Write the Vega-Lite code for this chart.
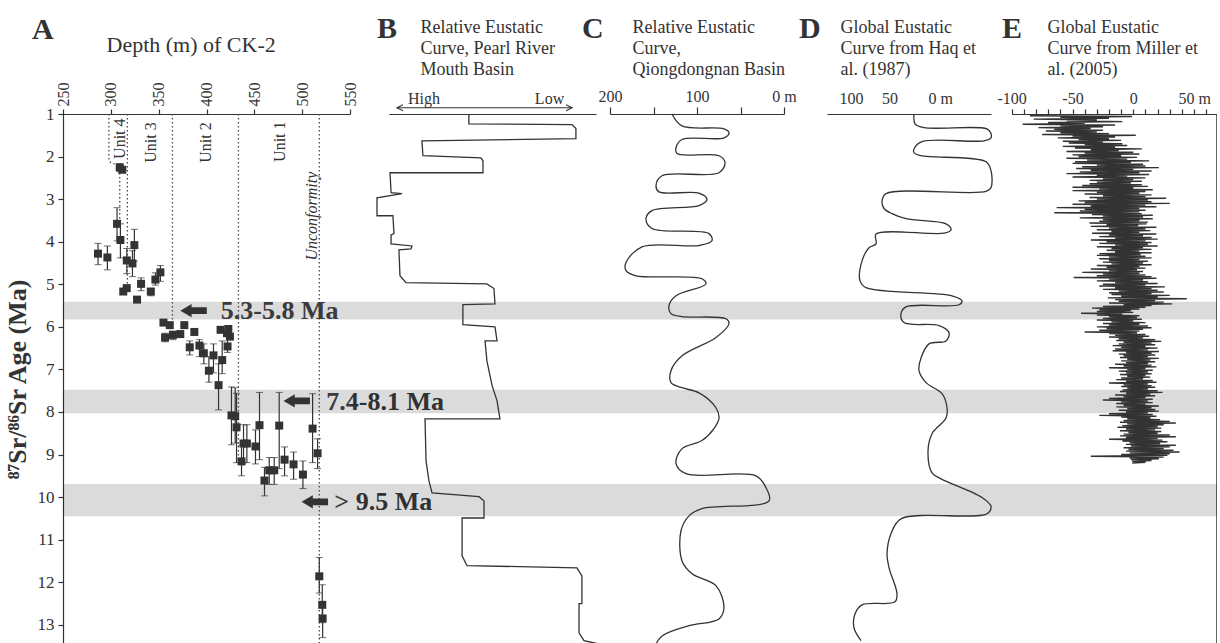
{
  "$schema": "https://vega.github.io/schema/vega-lite/v6.json",
  "background": "white",
  "padding": {"left": 4, "top": 14, "right": 0, "bottom": 0},
  "spacing": 0,
  "bounds": "flush",
  "config": {
    "view": {"stroke": null},
    "font": "Liberation Serif",
    "axis": {
      "labelFont": "Liberation Serif", "titleFont": "Liberation Serif",
      "labelColor": "#333", "titleColor": "#333", "domainColor": "#333", "tickColor": "#333",
      "domainWidth": 1.2, "tickWidth": 1.2, "grid": false, "labelFlush": false, "labelOverlap": false,
      "labelFontSize": 16, "titleFontWeight": "normal"
    },
    "title": {"font": "Liberation Serif", "fontSize": 30, "fontWeight": "bold", "color": "#333", "anchor": "start", "frame": "group", "baseline": "alphabetic"}
  },
  "datasets": {
    "bands": [
      {"lo": 5.41, "hi": 5.83},
      {"lo": 7.48, "hi": 8.03},
      {"lo": 9.69, "hi": 10.45}
    ],
    "guides": [
      {"g": "u4", "o": 1, "depth": 298, "age": 1.0},
      {"g": "u4", "o": 2, "depth": 298, "age": 2.08},
      {"g": "u4", "o": 3, "depth": 300, "age": 2.15},
      {"g": "u4", "o": 4, "depth": 304, "age": 2.18},
      {"g": "u4b", "o": 1, "depth": 309.3, "age": 2.2},
      {"g": "u4b", "o": 2, "depth": 309.3, "age": 3.55},
      {"g": "b43", "o": 1, "depth": 317.3, "age": 1.0},
      {"g": "b43", "o": 2, "depth": 317.3, "age": 5.1},
      {"g": "b32", "o": 1, "depth": 364.4, "age": 1.0},
      {"g": "b32", "o": 2, "depth": 364.4, "age": 6.0},
      {"g": "b21", "o": 1, "depth": 433.4, "age": 1.0},
      {"g": "b21", "o": 2, "depth": 433.4, "age": 9.2},
      {"g": "unc", "o": 1, "depth": 517.9, "age": 1.0},
      {"g": "unc", "o": 2, "depth": 517.9, "age": 13.45}
    ],
    "units": [
      {"label": "Unit 4", "depth": 309.6, "age": 1.58, "italic": 0},
      {"label": "Unit 3", "depth": 341.7, "age": 1.67, "italic": 0},
      {"label": "Unit 2", "depth": 399.3, "age": 1.67, "italic": 0},
      {"label": "Unit 1", "depth": 476.7, "age": 1.65, "italic": 0},
      {"label": "Unconformity", "depth": 510.2, "age": 3.4, "italic": 1}
    ],
    "samples": [
      {"depth": 309.3, "age": 2.25, "lo": 2.18, "hi": 2.35},
      {"depth": 312.0, "age": 2.31, "lo": null, "hi": null},
      {"depth": 286.6, "age": 4.28, "lo": 4.04, "hi": 4.54},
      {"depth": 296.4, "age": 4.37, "lo": 4.10, "hi": 4.66},
      {"depth": 306.5, "age": 3.58, "lo": 3.20, "hi": 3.98},
      {"depth": 310.0, "age": 3.96, "lo": 3.58, "hi": 4.38},
      {"depth": 316.7, "age": 4.44, "lo": 4.16, "hi": 4.75},
      {"depth": 322.6, "age": 4.51, "lo": 4.21, "hi": 4.82},
      {"depth": 324.6, "age": 4.08, "lo": 3.71, "hi": 4.46},
      {"depth": 313.0, "age": 5.17, "lo": null, "hi": null},
      {"depth": 316.6, "age": 5.09, "lo": null, "hi": null},
      {"depth": 327.4, "age": 5.36, "lo": 5.30, "hi": 5.42},
      {"depth": 331.6, "age": 4.99, "lo": 4.85, "hi": 5.15},
      {"depth": 341.8, "age": 5.17, "lo": 5.10, "hi": 5.27},
      {"depth": 346.6, "age": 4.89, "lo": 4.73, "hi": 5.02},
      {"depth": 351.8, "age": 4.72, "lo": 4.56, "hi": 4.93},
      {"depth": 355.0, "age": 5.90, "lo": null, "hi": null},
      {"depth": 356.7, "age": 6.25, "lo": 6.15, "hi": 6.35},
      {"depth": 361.6, "age": 5.96, "lo": null, "hi": null},
      {"depth": 364.9, "age": 6.19, "lo": 6.10, "hi": 6.30},
      {"depth": 372.6, "age": 6.17, "lo": 6.10, "hi": 6.22},
      {"depth": 376.8, "age": 5.96, "lo": null, "hi": null},
      {"depth": 387.3, "age": 6.12, "lo": null, "hi": null},
      {"depth": 382.5, "age": 6.48, "lo": 6.33, "hi": 6.66},
      {"depth": 392.6, "age": 6.44, "lo": 6.30, "hi": 6.70},
      {"depth": 397.2, "age": 6.62, "lo": 6.40, "hi": 6.87},
      {"depth": 407.3, "age": 6.67, "lo": 6.40, "hi": 7.08},
      {"depth": 402.5, "age": 7.03, "lo": 6.70, "hi": 7.30},
      {"depth": 412.6, "age": 7.37, "lo": 6.87, "hi": 7.95},
      {"depth": 414.7, "age": 6.07, "lo": null, "hi": null},
      {"depth": 421.4, "age": 6.15, "lo": null, "hi": null},
      {"depth": 422.8, "age": 6.05, "lo": null, "hi": null},
      {"depth": 424.5, "age": 6.23, "lo": null, "hi": null},
      {"depth": 416.4, "age": 6.78, "lo": 6.33, "hi": 7.10},
      {"depth": 422.0, "age": 6.46, "lo": 6.20, "hi": 6.60},
      {"depth": 426.1, "age": 8.08, "lo": 7.41, "hi": 8.77},
      {"depth": 430.0, "age": 8.10, "lo": 7.43, "hi": 8.73},
      {"depth": 431.4, "age": 8.36, "lo": 7.56, "hi": 9.19},
      {"depth": 436.6, "age": 9.16, "lo": 8.79, "hi": 9.50},
      {"depth": 438.7, "age": 8.74, "lo": 8.30, "hi": 9.19},
      {"depth": 442.2, "age": 8.74, "lo": 8.30, "hi": 9.19},
      {"depth": 451.2, "age": 8.81, "lo": 8.42, "hi": 9.22},
      {"depth": 455.4, "age": 8.31, "lo": 7.54, "hi": 9.12},
      {"depth": 460.6, "age": 9.61, "lo": 9.30, "hi": 9.97},
      {"depth": 465.6, "age": 9.37, "lo": 9.07, "hi": 9.70},
      {"depth": 470.8, "age": 9.37, "lo": 9.07, "hi": 9.70},
      {"depth": 476.0, "age": 8.32, "lo": 7.54, "hi": 9.33},
      {"depth": 481.6, "age": 9.12, "lo": 8.82, "hi": 9.50},
      {"depth": 491.0, "age": 9.23, "lo": 8.94, "hi": 9.58},
      {"depth": 500.8, "age": 9.47, "lo": 9.15, "hi": 9.80},
      {"depth": 510.9, "age": 8.39, "lo": 7.57, "hi": 9.19},
      {"depth": 516.1, "age": 8.97, "lo": 8.63, "hi": 9.33},
      {"depth": 517.9, "age": 11.86, "lo": 11.42, "hi": 12.25},
      {"depth": 521.0, "age": 12.53, "lo": 12.06, "hi": 12.95},
      {"depth": 521.4, "age": 12.85, "lo": 12.50, "hi": 13.30}
    ],
    "arrows": [
      {"depth": 386.5, "age": 5.62},
      {"depth": 494.3, "age": 7.74},
      {"depth": 513.2, "age": 10.11}
    ],
    "callouts": [
      {"depth": 415.0, "age": 5.62, "label": "5.3-5.8 Ma"},
      {"depth": 525.2, "age": 7.76, "label": "7.4-8.1 Ma"},
      {"depth": 533.6, "age": 10.11, "label": "> 9.5 Ma"}
    ],
    "pearl": [
      {"o": 1, "v": 38.6, "age": 1.0}, {"o": 2, "v": 38.6, "age": 1.23}, {"o": 3, "v": 88.4, "age": 1.25},
      {"o": 4, "v": 90.3, "age": 1.34}, {"o": 5, "v": 90.3, "age": 1.58}, {"o": 6, "v": 15.9, "age": 1.63},
      {"o": 7, "v": 16.4, "age": 1.98}, {"o": 8, "v": 44.4, "age": 2.03}, {"o": 9, "v": 45.4, "age": 2.10},
      {"o": 10, "v": 45.4, "age": 2.38}, {"o": 11, "v": 0.5, "age": 2.38}, {"o": 12, "v": 1.0, "age": 2.85},
      {"o": 13, "v": 6.3, "age": 2.87}, {"o": 14, "v": -5.8, "age": 2.97}, {"o": 15, "v": -5.8, "age": 3.39},
      {"o": 16, "v": 1.9, "age": 3.39}, {"o": 17, "v": 2.4, "age": 3.81}, {"o": 18, "v": 1.0, "age": 3.84},
      {"o": 19, "v": 1.0, "age": 4.05}, {"o": 20, "v": 11.1, "age": 4.10}, {"o": 21, "v": 10.6, "age": 4.17},
      {"o": 22, "v": 4.8, "age": 4.19}, {"o": 23, "v": 5.3, "age": 4.80}, {"o": 24, "v": 8.2, "age": 4.96},
      {"o": 25, "v": 47.3, "age": 4.99}, {"o": 26, "v": 50.7, "age": 5.10}, {"o": 27, "v": 51.2, "age": 5.46},
      {"o": 28, "v": 35.7, "age": 5.48}, {"o": 29, "v": 35.7, "age": 5.95}, {"o": 30, "v": 51.2, "age": 6.00},
      {"o": 31, "v": 52.2, "age": 6.33}, {"o": 32, "v": 46.4, "age": 6.33}, {"o": 33, "v": 47.3, "age": 6.80},
      {"o": 34, "v": 49.8, "age": 7.38}, {"o": 35, "v": 52.2, "age": 7.74}, {"o": 36, "v": 53.6, "age": 8.16},
      {"o": 37, "v": 17.4, "age": 8.16}, {"o": 38, "v": 17.9, "age": 9.15}, {"o": 39, "v": 19.3, "age": 9.62},
      {"o": 40, "v": 20.8, "age": 9.90}, {"o": 41, "v": 43.5, "age": 9.99}, {"o": 42, "v": 45.9, "age": 10.09},
      {"o": 43, "v": 45.9, "age": 10.49}, {"o": 44, "v": 35.3, "age": 10.49}, {"o": 45, "v": 35.3, "age": 11.38},
      {"o": 46, "v": 37.7, "age": 11.61}, {"o": 47, "v": 90.8, "age": 11.66}, {"o": 48, "v": 93.2, "age": 11.85},
      {"o": 49, "v": 93.2, "age": 12.50}, {"o": 50, "v": 91.8, "age": 12.50}, {"o": 51, "v": 91.8, "age": 13.19},
      {"o": 52, "v": 94.2, "age": 13.37}, {"o": 53, "v": 101.4, "age": 13.45}
    ],
    "scaleArrow": [{"v1": 3.9, "v2": 88.4, "age": 0.852}],
    "scaleHeads": [
      {"v": 5.3, "age": 0.852, "dir": "left"},
      {"v": 87.0, "age": 0.852, "dir": "right"}
    ],
    "qiong": [
      {"o": 1, "v": 128.7, "age": 1.0}, {"o": 2, "v": 117.2, "age": 1.28}, {"o": 3, "v": 69.0, "age": 1.35},
      {"o": 4, "v": 63.2, "age": 1.44}, {"o": 5, "v": 69.0, "age": 1.56}, {"o": 6, "v": 117.2, "age": 1.60},
      {"o": 7, "v": 124.1, "age": 1.79}, {"o": 8, "v": 123.0, "age": 1.93}, {"o": 9, "v": 74.7, "age": 1.98},
      {"o": 10, "v": 67.8, "age": 2.14}, {"o": 11, "v": 74.7, "age": 2.38}, {"o": 12, "v": 140.2, "age": 2.45},
      {"o": 13, "v": 147.1, "age": 2.68}, {"o": 14, "v": 143.7, "age": 2.83}, {"o": 15, "v": 97.7, "age": 2.86},
      {"o": 16, "v": 88.5, "age": 3.01}, {"o": 17, "v": 97.7, "age": 3.15}, {"o": 18, "v": 151.7, "age": 3.27},
      {"o": 19, "v": 158.6, "age": 3.46}, {"o": 20, "v": 151.7, "age": 3.69}, {"o": 21, "v": 86.2, "age": 3.81},
      {"o": 22, "v": 82.8, "age": 3.98}, {"o": 23, "v": 97.7, "age": 4.09}, {"o": 24, "v": 163.2, "age": 4.12},
      {"o": 25, "v": 181.6, "age": 4.49}, {"o": 26, "v": 181.6, "age": 4.68}, {"o": 27, "v": 170.1, "age": 4.80},
      {"o": 28, "v": 94.3, "age": 4.87}, {"o": 29, "v": 89.7, "age": 4.99}, {"o": 30, "v": 124.1, "age": 5.27},
      {"o": 31, "v": 132.2, "age": 5.50}, {"o": 32, "v": 129.9, "age": 5.69}, {"o": 33, "v": 117.2, "age": 5.76},
      {"o": 34, "v": 66.7, "age": 5.81}, {"o": 35, "v": 63.2, "age": 5.92}, {"o": 36, "v": 78.2, "age": 6.25},
      {"o": 37, "v": 117.2, "age": 6.68}, {"o": 38, "v": 129.9, "age": 7.03}, {"o": 39, "v": 129.9, "age": 7.31},
      {"o": 40, "v": 117.2, "age": 7.43}, {"o": 41, "v": 97.7, "age": 7.55}, {"o": 42, "v": 78.2, "age": 7.90},
      {"o": 43, "v": 74.7, "age": 8.14}, {"o": 44, "v": 80.5, "age": 8.39}, {"o": 45, "v": 94.3, "age": 8.67},
      {"o": 46, "v": 117.2, "age": 8.86}, {"o": 47, "v": 124.1, "age": 9.21}, {"o": 48, "v": 112.6, "age": 9.45},
      {"o": 49, "v": 32.2, "age": 9.50}, {"o": 50, "v": 20.7, "age": 9.78}, {"o": 51, "v": 17.2, "age": 10.09},
      {"o": 52, "v": 94.3, "age": 10.27}, {"o": 53, "v": 109.2, "age": 10.44}, {"o": 54, "v": 118.4, "age": 10.79},
      {"o": 55, "v": 117.2, "age": 11.50}, {"o": 56, "v": 105.7, "age": 11.80}, {"o": 57, "v": 78.2, "age": 12.08},
      {"o": 58, "v": 69.0, "age": 12.60}, {"o": 59, "v": 74.7, "age": 12.86}, {"o": 60, "v": 109.2, "age": 13.02},
      {"o": 61, "v": 140.2, "age": 13.26}, {"o": 62, "v": 147.1, "age": 13.45}
    ],
    "haq": [
      {"o": 1, "v": 18.2, "age": 1.0}, {"o": 2, "v": 16.9, "age": 1.23}, {"o": 3, "v": 5.2, "age": 1.32},
      {"o": 4, "v": -76.6, "age": 1.35}, {"o": 5, "v": -81.8, "age": 1.46}, {"o": 6, "v": -81.8, "age": 1.56},
      {"o": 7, "v": -72.7, "age": 1.63}, {"o": 8, "v": 7.8, "age": 1.65}, {"o": 9, "v": 18.2, "age": 1.82},
      {"o": 10, "v": 18.2, "age": 1.91}, {"o": 11, "v": 9.1, "age": 1.98}, {"o": 12, "v": -75.3, "age": 2.12},
      {"o": 13, "v": -81.8, "age": 2.33}, {"o": 14, "v": -81.8, "age": 2.73}, {"o": 15, "v": -75.3, "age": 2.82},
      {"o": 16, "v": 54.5, "age": 2.87}, {"o": 17, "v": 59.7, "age": 3.04}, {"o": 18, "v": 57.1, "age": 3.22},
      {"o": 19, "v": 46.8, "age": 3.34}, {"o": 20, "v": 28.6, "age": 3.46}, {"o": 21, "v": -23.4, "age": 3.58},
      {"o": 22, "v": -29.9, "age": 3.72}, {"o": 23, "v": -20.8, "age": 3.80}, {"o": 24, "v": 67.5, "age": 3.82},
      {"o": 25, "v": 67.5, "age": 4.05}, {"o": 26, "v": 76.6, "age": 4.14}, {"o": 27, "v": 85.7, "age": 4.45},
      {"o": 28, "v": 88.3, "age": 4.92}, {"o": 29, "v": 80.5, "age": 5.08}, {"o": 30, "v": -31.2, "age": 5.27},
      {"o": 31, "v": -44.2, "age": 5.39}, {"o": 32, "v": -40.3, "age": 5.48}, {"o": 33, "v": 28.6, "age": 5.53},
      {"o": 34, "v": 35.1, "age": 5.69}, {"o": 35, "v": 31.2, "age": 5.90}, {"o": 36, "v": -14.3, "age": 5.97},
      {"o": 37, "v": -27.3, "age": 6.14}, {"o": 38, "v": -23.4, "age": 6.33}, {"o": 39, "v": -1.3, "age": 6.40},
      {"o": 40, "v": 9.1, "age": 6.73}, {"o": 41, "v": 11.7, "age": 7.03}, {"o": 42, "v": 2.6, "age": 7.31},
      {"o": 43, "v": -18.2, "age": 7.57}, {"o": 44, "v": -24.7, "age": 7.90}, {"o": 45, "v": -23.4, "age": 8.14},
      {"o": 46, "v": -10.4, "age": 8.39}, {"o": 47, "v": -5.2, "age": 8.51}, {"o": 48, "v": 0.0, "age": 8.91},
      {"o": 49, "v": -5.2, "age": 9.43}, {"o": 50, "v": -16.9, "age": 9.57}, {"o": 51, "v": -70.1, "age": 10.01},
      {"o": 52, "v": -81.8, "age": 10.22}, {"o": 53, "v": -76.6, "age": 10.39}, {"o": 54, "v": 35.1, "age": 10.51},
      {"o": 55, "v": 48.1, "age": 10.86}, {"o": 56, "v": 53.2, "age": 11.33}, {"o": 57, "v": 50.6, "age": 11.66},
      {"o": 58, "v": 40.3, "age": 12.27}, {"o": 59, "v": 42.9, "age": 12.46}, {"o": 60, "v": 85.7, "age": 12.53},
      {"o": 61, "v": 94.8, "age": 12.74}, {"o": 62, "v": 96.1, "age": 13.07}, {"o": 63, "v": 87.0, "age": 13.37}
    ],
    "miller": [
      {"a":1.04,"v":-85},{"a":1.06,"v":-1},{"a":1.08,"v":-60},{"a":1.10,"v":-20},{"a":1.12,"v":-82},{"a":1.14,"v":-30},{"a":1.16,"v":-55},{"a":1.18,"v":-9},{"a":1.20,"v":-70},{"a":1.22,"v":-40},
      {"a":1.24,"v":-91},{"a":1.26,"v":-15},{"a":1.28,"v":-60},{"a":1.30,"v":-25},{"a":1.32,"v":-78},{"a":1.34,"v":-35},{"a":1.36,"v":-65},{"a":1.38,"v":-25},{"a":1.40,"v":-72},{"a":1.42,"v":-30},
      {"a":1.44,"v":-60},{"a":1.46,"v":-20},{"a":1.48,"v":-75},{"a":1.50,"v":2},{"a":1.52,"v":-50},{"a":1.54,"v":-15},{"a":1.56,"v":-62},{"a":1.58,"v":-20},{"a":1.60,"v":-45},{"a":1.62,"v":-10},
      {"a":1.64,"v":-58},{"a":1.66,"v":-25},{"a":1.68,"v":-53},{"a":1.70,"v":-9},{"a":1.72,"v":-40},{"a":1.74,"v":-5},{"a":1.76,"v":-58},{"a":1.78,"v":-15},{"a":1.80,"v":-48},{"a":1.82,"v":7},
      {"a":1.84,"v":-35},{"a":1.86,"v":-12},{"a":1.88,"v":-55},{"a":1.90,"v":0},{"a":1.92,"v":-40},{"a":1.94,"v":5},{"a":1.96,"v":-50},{"a":1.98,"v":-10},{"a":2.00,"v":-45},{"a":2.02,"v":3},
      {"a":2.04,"v":-55},{"a":2.06,"v":-5},{"a":2.08,"v":-38},{"a":2.10,"v":13},{"a":2.12,"v":-48},{"a":2.14,"v":-2},{"a":2.16,"v":-50},{"a":2.18,"v":8},{"a":2.20,"v":-30},{"a":2.22,"v":10},
      {"a":2.24,"v":-42},{"a":2.26,"v":21},{"a":2.28,"v":-47},{"a":2.30,"v":0},{"a":2.32,"v":-35},{"a":2.34,"v":15},{"a":2.36,"v":-44},{"a":2.38,"v":5},{"a":2.40,"v":-55},{"a":2.42,"v":13},
      {"a":2.44,"v":-30},{"a":2.46,"v":-5},{"a":2.48,"v":-50},{"a":2.50,"v":10},{"a":2.52,"v":-25},{"a":2.54,"v":0},{"a":2.56,"v":-36},{"a":2.58,"v":7},
      {"a":2.60,"v":-30},{"a":2.62,"v":-2},{"a":2.64,"v":-36},{"a":2.66,"v":7},{"a":2.68,"v":-42},{"a":2.70,"v":12},{"a":2.72,"v":-50},{"a":2.74,"v":0},{"a":2.76,"v":-28},{"a":2.78,"v":16},
      {"a":2.80,"v":-50},{"a":2.82,"v":10},{"a":2.84,"v":-30},{"a":2.86,"v":5},{"a":2.88,"v":-40},{"a":2.90,"v":15},{"a":2.92,"v":-25},{"a":2.94,"v":10},{"a":2.96,"v":-36},{"a":2.98,"v":27},
      {"a":3.00,"v":-30},{"a":3.02,"v":12},{"a":3.04,"v":-45},{"a":3.06,"v":15},{"a":3.08,"v":-40},{"a":3.10,"v":30},{"a":3.12,"v":-50},{"a":3.14,"v":10},{"a":3.16,"v":-35},{"a":3.18,"v":19},
      {"a":3.20,"v":-63},{"a":3.22,"v":5},{"a":3.24,"v":-40},{"a":3.26,"v":10},{"a":3.28,"v":-44},{"a":3.30,"v":5},{"a":3.32,"v":-65},{"a":3.34,"v":7},{"a":3.36,"v":-34},{"a":3.38,"v":16},
      {"a":3.40,"v":-25},{"a":3.42,"v":8},{"a":3.44,"v":-44},{"a":3.46,"v":16},
      {"a":3.48,"v":-25},{"a":3.50,"v":5},{"a":3.52,"v":-28},{"a":3.54,"v":12},{"a":3.56,"v":-36},{"a":3.58,"v":11},{"a":3.60,"v":-22},{"a":3.62,"v":4},{"a":3.64,"v":-35},{"a":3.66,"v":19},
      {"a":3.68,"v":-20},{"a":3.70,"v":10},{"a":3.72,"v":-30},{"a":3.74,"v":14},{"a":3.76,"v":-18},{"a":3.78,"v":5},{"a":3.80,"v":-34},{"a":3.82,"v":19},{"a":3.84,"v":-20},{"a":3.86,"v":8},
      {"a":3.88,"v":-28},{"a":3.90,"v":15},{"a":3.92,"v":-15},{"a":3.94,"v":20},{"a":3.96,"v":-35},{"a":3.98,"v":10},{"a":4.00,"v":-22},{"a":4.02,"v":15},{"a":4.04,"v":-28},{"a":4.06,"v":12},
      {"a":4.08,"v":-15},{"a":4.10,"v":20},{"a":4.12,"v":-30},{"a":4.14,"v":8},{"a":4.16,"v":-18},{"a":4.18,"v":15},{"a":4.20,"v":-22},{"a":4.22,"v":5},{"a":4.24,"v":-15},{"a":4.26,"v":15},
      {"a":4.28,"v":-28},{"a":4.30,"v":6},{"a":4.32,"v":-30},{"a":4.34,"v":10},{"a":4.36,"v":-20},{"a":4.38,"v":15},{"a":4.40,"v":-28},{"a":4.42,"v":5},{"a":4.44,"v":-20},{"a":4.46,"v":12},
      {"a":4.48,"v":-25},{"a":4.50,"v":8},{"a":4.52,"v":-18},{"a":4.54,"v":15},{"a":4.56,"v":-30},{"a":4.58,"v":5},{"a":4.60,"v":-22},{"a":4.62,"v":10},{"a":4.64,"v":-35},{"a":4.66,"v":3},
      {"a":4.68,"v":-20},{"a":4.70,"v":8},{"a":4.72,"v":-42},{"a":4.74,"v":5},{"a":4.76,"v":-25},{"a":4.78,"v":10},{"a":4.80,"v":-30},{"a":4.82,"v":15},{"a":4.84,"v":-49},{"a":4.86,"v":19},
      {"a":4.88,"v":-20},{"a":4.90,"v":8},{"a":4.92,"v":-30},{"a":4.94,"v":12},{"a":4.96,"v":-15},{"a":4.98,"v":20},{"a":5.00,"v":-25},{"a":5.02,"v":10},{"a":5.04,"v":-28},{"a":5.06,"v":26},
      {"a":5.08,"v":-15},{"a":5.10,"v":15},{"a":5.12,"v":-25},{"a":5.14,"v":20},{"a":5.16,"v":-12},{"a":5.18,"v":25},{"a":5.20,"v":-20},{"a":5.22,"v":15},{"a":5.24,"v":-18},{"a":5.26,"v":30},
      {"a":5.28,"v":-10},{"a":5.30,"v":20},{"a":5.32,"v":-21},{"a":5.34,"v":44},{"a":5.36,"v":-15},{"a":5.38,"v":18},{"a":5.40,"v":-12},{"a":5.42,"v":25},{"a":5.44,"v":-20},{"a":5.46,"v":32},
      {"a":5.48,"v":-8},{"a":5.50,"v":15},{"a":5.52,"v":-25},{"a":5.54,"v":10},{"a":5.56,"v":-34},{"a":5.58,"v":5},{"a":5.60,"v":-28},{"a":5.62,"v":-2},{"a":5.64,"v":-30},{"a":5.66,"v":0},
      {"a":5.68,"v":-43},{"a":5.70,"v":-9},{"a":5.72,"v":-30},{"a":5.74,"v":5},{"a":5.76,"v":-20},{"a":5.78,"v":3},{"a":5.80,"v":-25},{"a":5.82,"v":7},{"a":5.84,"v":-30},{"a":5.86,"v":0},
      {"a":5.88,"v":-18},{"a":5.90,"v":10},{"a":5.92,"v":-25},{"a":5.94,"v":5},{"a":5.96,"v":-20},{"a":5.98,"v":12},{"a":6.00,"v":-30},{"a":6.02,"v":15},{"a":6.04,"v":-22},{"a":6.06,"v":8},
      {"a":6.08,"v":-28},{"a":6.10,"v":5},{"a":6.12,"v":-40},{"a":6.14,"v":3},{"a":6.16,"v":-20},{"a":6.18,"v":10},{"a":6.20,"v":-15},{"a":6.22,"v":13},{"a":6.24,"v":-20},{"a":6.26,"v":8},
      {"a":6.28,"v":-12},{"a":6.30,"v":18},{"a":6.32,"v":-14},{"a":6.34,"v":23},{"a":6.36,"v":-8},{"a":6.38,"v":15},{"a":6.40,"v":-12},{"a":6.42,"v":18},{"a":6.44,"v":-17},{"a":6.46,"v":10},
      {"a":6.48,"v":-10},{"a":6.50,"v":20},{"a":6.52,"v":-15},{"a":6.54,"v":12},{"a":6.56,"v":-17},{"a":6.58,"v":21},{"a":6.60,"v":-6},{"a":6.62,"v":15},{"a":6.64,"v":-12},{"a":6.66,"v":18},
      {"a":6.68,"v":-8},{"a":6.70,"v":12},{"a":6.72,"v":-11},{"a":6.74,"v":21},{"a":6.76,"v":-5},{"a":6.78,"v":14},{"a":6.80,"v":-10},{"a":6.82,"v":18},{"a":6.84,"v":-6},{"a":6.86,"v":12},
      {"a":6.88,"v":-15},{"a":6.90,"v":15},{"a":6.92,"v":-8},{"a":6.94,"v":19},{"a":6.96,"v":-20},{"a":6.98,"v":10},{"a":7.00,"v":-5},{"a":7.02,"v":16},{"a":7.04,"v":-12},{"a":7.06,"v":12},
      {"a":7.08,"v":-6},{"a":7.10,"v":15},{"a":7.12,"v":-11},{"a":7.14,"v":10},{"a":7.16,"v":-5},{"a":7.18,"v":14},{"a":7.20,"v":-10},{"a":7.22,"v":8},{"a":7.24,"v":-14},{"a":7.26,"v":16},
      {"a":7.28,"v":-6},{"a":7.30,"v":19},{"a":7.32,"v":-20},{"a":7.34,"v":12},{"a":7.36,"v":-8},{"a":7.38,"v":15},{"a":7.40,"v":-10},{"a":7.42,"v":18},{"a":7.44,"v":-5},{"a":7.46,"v":12},
      {"a":7.48,"v":-9},{"a":7.50,"v":20},{"a":7.52,"v":-11},{"a":7.54,"v":24},{"a":7.56,"v":-6},{"a":7.58,"v":14},{"a":7.60,"v":-15},{"a":7.62,"v":18},{"a":7.64,"v":-8},{"a":7.66,"v":10},
      {"a":7.68,"v":-20},{"a":7.70,"v":16},{"a":7.72,"v":-25},{"a":7.74,"v":12},{"a":7.76,"v":-10},{"a":7.78,"v":16},{"a":7.80,"v":-14},{"a":7.82,"v":10},{"a":7.84,"v":-8},{"a":7.86,"v":21},
      {"a":7.88,"v":-14},{"a":7.90,"v":15},{"a":7.92,"v":-5},{"a":7.94,"v":18},{"a":7.96,"v":-12},{"a":7.98,"v":21},{"a":8.00,"v":-6},{"a":8.02,"v":12},{"a":8.04,"v":-20},{"a":8.06,"v":16},
      {"a":8.08,"v":-28},{"a":8.10,"v":19},{"a":8.12,"v":-10},{"a":8.14,"v":14},{"a":8.16,"v":-5},{"a":8.18,"v":22},{"a":8.20,"v":-8},{"a":8.22,"v":30},{"a":8.24,"v":-11},{"a":8.26,"v":35},
      {"a":8.28,"v":-5},{"a":8.30,"v":25},{"a":8.32,"v":-9},{"a":8.34,"v":20},{"a":8.36,"v":-13},{"a":8.38,"v":23},{"a":8.40,"v":-6},{"a":8.42,"v":18},{"a":8.44,"v":-11},{"a":8.46,"v":23},
      {"a":8.48,"v":-4},{"a":8.50,"v":20},{"a":8.52,"v":-8},{"a":8.54,"v":30},{"a":8.56,"v":-11},{"a":8.58,"v":35},{"a":8.60,"v":-6},{"a":8.62,"v":20},{"a":8.64,"v":-20},{"a":8.66,"v":24},
      {"a":8.68,"v":-9},{"a":8.70,"v":28},{"a":8.72,"v":-3},{"a":8.74,"v":22},{"a":8.76,"v":-6},{"a":8.78,"v":35},{"a":8.80,"v":-2},{"a":8.82,"v":30},{"a":8.84,"v":-8},{"a":8.86,"v":25},
      {"a":8.88,"v":-4},{"a":8.90,"v":33},{"a":8.92,"v":-6},{"a":8.94,"v":38},{"a":8.96,"v":-3},{"a":8.98,"v":30},{"a":9.00,"v":-10},{"a":9.02,"v":28},{"a":9.04,"v":-35},{"a":9.06,"v":25},
      {"a":9.08,"v":-3},{"a":9.10,"v":21},{"a":9.12,"v":-2},{"a":9.14,"v":15},{"a":9.16,"v":-1},{"a":9.18,"v":10},{"a":9.20,"v":-1}
    ]
  },
  "hconcat": [
    {
      "width": 287,
      "height": 530,
      "title": {"text": "A", "dx": -31, "offset": -12},
      "layer": [
        {
          "data": {"name": "bands"},
          "mark": {"type": "rect", "color": "#000", "opacity": 0.14},
          "encoding": {
            "y": {"field": "lo", "type": "quantitative", "title": "⁸⁷Sr/⁸⁶Sr Age (Ma)",
                  "scale": {"domain": [1, 13.45], "reverse": true, "nice": false, "zero": false},
                  "axis": {
                    "titleFontSize": 26, "titleFontWeight": "bold", "titlePadding": 7,
                    "values": [1,1.5,2,2.5,3,3.5,4,4.5,5,5.5,6,6.5,7,7.5,8,8.5,9,9.5,10,10.5,11,11.5,12,12.5,13],
                    "labelExpr": "datum.value % 1 === 0 ? datum.label : ''",
                    "tickSize": {"condition": {"test": "datum.value % 1 === 0", "value": 5}, "value": 3},
                    "labelFontSize": 17, "labelPadding": 4
                  }},
            "y2": {"field": "hi"}
          }
        },
        {
          "data": {"name": "guides"},
          "mark": {"type": "line", "color": "#444", "strokeWidth": 1.3, "strokeDash": [1.5, 2.5]},
          "encoding": {
            "x": {"field": "depth", "type": "quantitative", "title": "Depth (m) of CK-2",
                  "scale": {"domain": [250, 550], "nice": false, "zero": false},
                  "axis": {
                    "orient": "top", "titleFontSize": 22,
                    "titleX": 43, "titleY": -63, "titleAlign": "left", "titleAnchor": "start", "titleBaseline": "alphabetic",
                    "values": [250,275,300,325,350,375,400,425,450,475,500,525,550],
                    "labelExpr": "datum.value % 50 === 0 ? datum.label : ''",
                    "labelAngle": 270, "labelAlign": "left", "labelBaseline": "middle",
                    "tickSize": 5, "labelPadding": 3, "labelFontSize": 16
                  }},
            "y": {"field": "age", "type": "quantitative", "title": "⁸⁷Sr/⁸⁶Sr Age (Ma)", "scale": {"domain": [1, 13.45], "reverse": true, "nice": false, "zero": false}},
            "detail": {"field": "g", "type": "nominal"},
            "order": {"field": "o", "type": "quantitative"}
          }
        },
        {
          "data": {"name": "units"},
          "transform": [{"filter": "datum.italic == 0"}],
          "mark": {"type": "text", "angle": 270, "fontSize": 16, "color": "#333", "font": "Liberation Serif", "align": "center", "baseline": "middle"},
          "encoding": {
            "x": {"field": "depth", "type": "quantitative", "title": "Depth (m) of CK-2", "scale": {"domain": [250, 550], "nice": false, "zero": false}},
            "y": {"field": "age", "type": "quantitative", "title": "⁸⁷Sr/⁸⁶Sr Age (Ma)", "scale": {"domain": [1, 13.45], "reverse": true, "nice": false, "zero": false}},
            "text": {"field": "label"}
          }
        },
        {
          "data": {"name": "units"},
          "transform": [{"filter": "datum.italic == 1"}],
          "mark": {"type": "text", "angle": 270, "fontSize": 16, "fontStyle": "italic", "color": "#333", "font": "Liberation Serif", "align": "center", "baseline": "middle"},
          "encoding": {
            "x": {"field": "depth", "type": "quantitative", "title": "Depth (m) of CK-2", "scale": {"domain": [250, 550], "nice": false, "zero": false}},
            "y": {"field": "age", "type": "quantitative", "title": "⁸⁷Sr/⁸⁶Sr Age (Ma)", "scale": {"domain": [1, 13.45], "reverse": true, "nice": false, "zero": false}},
            "text": {"field": "label"}
          }
        },
        {
          "data": {"name": "samples"},
          "transform": [{"filter": "isValid(datum.lo)"}],
          "mark": {"type": "errorbar", "ticks": {"size": 7, "color": "#333"}, "rule": {"color": "#333", "strokeWidth": 1.2}},
          "encoding": {
            "x": {"field": "depth", "type": "quantitative", "title": "Depth (m) of CK-2", "scale": {"domain": [250, 550], "nice": false, "zero": false}},
            "y": {"field": "lo", "type": "quantitative", "title": "⁸⁷Sr/⁸⁶Sr Age (Ma)", "scale": {"domain": [1, 13.45], "reverse": true, "nice": false, "zero": false}},
            "y2": {"field": "hi"}
          }
        },
        {
          "data": {"name": "samples"},
          "mark": {"type": "square", "size": 64, "color": "#333", "opacity": 1, "filled": true},
          "encoding": {
            "x": {"field": "depth", "type": "quantitative", "title": "Depth (m) of CK-2", "scale": {"domain": [250, 550], "nice": false, "zero": false}},
            "y": {"field": "age", "type": "quantitative", "title": "⁸⁷Sr/⁸⁶Sr Age (Ma)", "scale": {"domain": [1, 13.45], "reverse": true, "nice": false, "zero": false}}
          }
        },
        {
          "data": {"name": "arrows"},
          "mark": {"type": "point", "shape": "M-1,0L-0.15,-0.5L-0.15,-0.26L1,-0.26L1,0.26L-0.15,0.26L-0.15,0.5Z", "size": 700, "filled": true, "color": "#333", "opacity": 1},
          "encoding": {
            "x": {"field": "depth", "type": "quantitative", "title": "Depth (m) of CK-2", "scale": {"domain": [250, 550], "nice": false, "zero": false}},
            "y": {"field": "age", "type": "quantitative", "title": "⁸⁷Sr/⁸⁶Sr Age (Ma)", "scale": {"domain": [1, 13.45], "reverse": true, "nice": false, "zero": false}}
          }
        },
        {
          "data": {"name": "callouts"},
          "mark": {"type": "text", "fontSize": 26, "fontWeight": "bold", "color": "#3a3a3a", "font": "Liberation Serif", "align": "left", "baseline": "middle"},
          "encoding": {
            "x": {"field": "depth", "type": "quantitative", "title": "Depth (m) of CK-2", "scale": {"domain": [250, 550], "nice": false, "zero": false}},
            "y": {"field": "age", "type": "quantitative", "title": "⁸⁷Sr/⁸⁶Sr Age (Ma)", "scale": {"domain": [1, 13.45], "reverse": true, "nice": false, "zero": false}},
            "text": {"field": "label"}
          }
        }
      ]
    },
    {
      "width": 253,
      "height": 530,
      "title": {"text": "B", "dx": 27, "offset": -26},
      "layer": [
        {
          "data": {"name": "bands"},
          "mark": {"type": "rect", "color": "#000", "opacity": 0.14},
          "encoding": {
            "y": {"field": "lo", "type": "quantitative", "scale": {"domain": [1, 13.45], "reverse": true, "nice": false, "zero": false}, "axis": null},
            "y2": {"field": "hi"}
          }
        },
        {
          "data": {"name": "pearl"},
          "mark": {"type": "line", "color": "#333", "strokeWidth": 1.3},
          "encoding": {
            "x": {"field": "v", "type": "quantitative",
                  "scale": {"domain": [0, 100], "rangeMin": 39, "rangeMax": 246, "nice": false, "zero": false},
                  "axis": {
                    "orient": "top", "title": ["Relative Eustatic", "Curve, Pearl River", "Mouth Basin"],
                    "titleFontSize": 18, "titleLineHeight": 21, "titleX": 70, "titleY": -82,
                    "titleAlign": "left", "titleAnchor": "start", "titleBaseline": "alphabetic",
                    "values": [16.7, 77.3], "labelExpr": "datum.value < 50 ? 'High' : 'Low'",
                    "ticks": false, "labelPadding": 8, "labelFontSize": 16
                  }},
            "y": {"field": "age", "type": "quantitative", "scale": {"domain": [1, 13.45], "reverse": true, "nice": false, "zero": false}},
            "order": {"field": "o", "type": "quantitative"}
          }
        },
        {
          "data": {"name": "scaleArrow"},
          "mark": {"type": "rule", "color": "#333", "strokeWidth": 1.1},
          "encoding": {
            "x": {"field": "v1", "type": "quantitative", "scale": {"domain": [0, 100], "rangeMin": 39, "rangeMax": 246, "nice": false, "zero": false}},
            "x2": {"field": "v2"},
            "y": {"field": "age", "type": "quantitative", "scale": {"domain": [1, 13.45], "reverse": true, "nice": false, "zero": false}}
          }
        },
        {
          "data": {"name": "scaleHeads"},
          "mark": {"type": "point", "filled": false, "color": "#333", "strokeWidth": 1.1, "size": 36, "opacity": 1},
          "encoding": {
            "x": {"field": "v", "type": "quantitative", "scale": {"domain": [0, 100], "rangeMin": 39, "rangeMax": 246, "nice": false, "zero": false}},
            "y": {"field": "age", "type": "quantitative", "scale": {"domain": [1, 13.45], "reverse": true, "nice": false, "zero": false}},
            "shape": {"field": "dir", "type": "nominal", "scale": {"domain": ["left", "right"], "range": ["M1,-1L-1,0L1,1", "M-1,-1L1,0L-1,1"]}, "legend": null}
          }
        }
      ]
    },
    {
      "width": 216,
      "height": 530,
      "title": {"text": "C", "dx": -21, "offset": -26},
      "layer": [
        {
          "data": {"name": "bands"},
          "mark": {"type": "rect", "color": "#000", "opacity": 0.14},
          "encoding": {
            "y": {"field": "lo", "type": "quantitative", "scale": {"domain": [1, 13.45], "reverse": true, "nice": false, "zero": false}, "axis": null},
            "y2": {"field": "hi"}
          }
        },
        {
          "data": {"name": "qiong"},
          "mark": {"type": "line", "color": "#333", "strokeWidth": 1.3, "interpolate": "catmull-rom"},
          "encoding": {
            "x": {"field": "v", "type": "quantitative",
                  "scale": {"domain": [200, 0], "rangeMin": 7, "rangeMax": 181, "nice": false, "zero": false},
                  "axis": {
                    "orient": "top", "title": ["Relative Eustatic", "Curve,", "Qiongdongnan Basin"],
                    "titleFontSize": 18, "titleLineHeight": 21, "titleX": 29, "titleY": -82,
                    "titleAlign": "left", "titleAnchor": "start", "titleBaseline": "alphabetic",
                    "values": [200, 150, 100, 50, 0],
                    "labelExpr": "datum.value === 0 ? '0 m' : (datum.value % 100 === 0 ? datum.label : '')",
                    "tickSize": 7, "labelPadding": 3, "labelFontSize": 16
                  }},
            "y": {"field": "age", "type": "quantitative", "scale": {"domain": [1, 13.45], "reverse": true, "nice": false, "zero": false}},
            "order": {"field": "o", "type": "quantitative"}
          }
        }
      ]
    },
    {
      "width": 185,
      "height": 530,
      "title": {"text": "D", "dx": -20, "offset": -26},
      "layer": [
        {
          "data": {"name": "bands"},
          "mark": {"type": "rect", "color": "#000", "opacity": 0.14},
          "encoding": {
            "y": {"field": "lo", "type": "quantitative", "scale": {"domain": [1, 13.45], "reverse": true, "nice": false, "zero": false}, "axis": null},
            "y2": {"field": "hi"}
          }
        },
        {
          "data": {"name": "haq"},
          "mark": {"type": "line", "color": "#333", "strokeWidth": 1.3, "interpolate": "catmull-rom"},
          "encoding": {
            "x": {"field": "v", "type": "quantitative",
                  "scale": {"domain": [131.2, -81.8], "rangeMin": 8, "rangeMax": 172, "nice": false, "zero": false},
                  "axis": {
                    "orient": "top", "title": ["Global Eustatic", "Curve from Haq et", "al. (1987)"],
                    "titleFontSize": 18, "titleLineHeight": 21, "titleX": 21, "titleY": -82,
                    "titleAlign": "left", "titleAnchor": "start", "titleBaseline": "alphabetic",
                    "values": [100, 50, 0],
                    "labelExpr": "datum.value === 0 ? '0 m' : datum.label",
                    "labelAlign": {"condition": {"test": "datum.value === 0", "value": "left"}, "value": "center"},
                    "ticks": false, "labelPadding": 8, "labelFontSize": 16
                  }},
            "y": {"field": "age", "type": "quantitative", "scale": {"domain": [1, 13.45], "reverse": true, "nice": false, "zero": false}},
            "order": {"field": "o", "type": "quantitative"}
          }
        }
      ]
    },
    {
      "width": 213,
      "height": 530,
      "title": {"text": "E", "dx": -2, "offset": -26},
      "layer": [
        {
          "data": {"name": "bands"},
          "mark": {"type": "rect", "color": "#000", "opacity": 0.14},
          "encoding": {
            "y": {"field": "lo", "type": "quantitative", "scale": {"domain": [1, 13.45], "reverse": true, "nice": false, "zero": false},
                  "axis": {"orient": "right", "labels": false, "ticks": false, "title": null, "domainWidth": 2.5, "domainColor": "#333"}},
            "y2": {"field": "hi"}
          }
        },
        {
          "data": {"name": "miller"},
          "mark": {"type": "line", "color": "#333", "strokeWidth": 1.4},
          "encoding": {
            "x": {"field": "v", "type": "quantitative",
                  "scale": {"domain": [-100, 68.8], "rangeMin": 7.7, "rangeMax": 213, "nice": false, "zero": false},
                  "axis": {
                    "orient": "top", "title": ["Global Eustatic", "Curve from Miller et", "al. (2005)"],
                    "titleFontSize": 18, "titleLineHeight": 21, "titleX": 43, "titleY": -82,
                    "titleAlign": "left", "titleAnchor": "start", "titleBaseline": "alphabetic",
                    "values": [-100,-90,-80,-70,-60,-50,-40,-30,-20,-10,0,10,20,30,40,50,60],
                    "labelExpr": "datum.value === 50 ? '50 m' : (datum.value % 50 === 0 ? replace(datum.label, '\u2212', '-') : '')",
                    "tickSize": 5, "labelPadding": 3, "labelFontSize": 16
                  }},
            "y": {"field": "a", "type": "quantitative", "scale": {"domain": [1, 13.45], "reverse": true, "nice": false, "zero": false}},
            "order": {"field": "a", "type": "quantitative"}
          }
        }
      ]
    }
  ]
}
